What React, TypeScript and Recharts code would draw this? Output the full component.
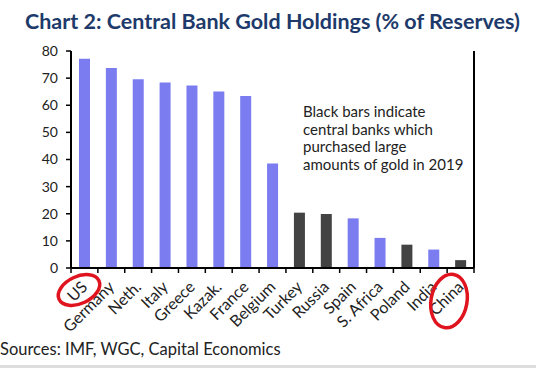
import React from "react";
import { BarChart, Bar, XAxis, YAxis, Cell } from "recharts";

const countries = ["US", "Germany", "Neth.", "Italy", "Greece", "Kazak.", "France", "Belgium", "Turkey", "Russia", "Spain", "S. Africa", "Poland", "India", "China"];
const goldShare = [77.1, 73.7, 69.6, 68.4, 67.3, 65.1, 63.4, 38.5, 20.4, 19.9, 18.3, 11.1, 8.6, 6.8, 2.9];
const largeBuyer = [false, false, false, false, false, false, false, false, true, true, false, false, true, false, true];
const yTicks = [0, 10, 20, 30, 40, 50, 60, 70, 80];
const noteLines = ["Black bars indicate", "central banks which", "purchased large", "amounts of gold in 2019"];

const data = countries.map((c, i) => ({ country: c, value: goldShare[i], black: largeBuyer[i] }));

const W = 536;
const H = 368;
const LEFT_W = 71;
const RIGHT_W = 62;
const TOP = 51;
const BOTTOM = 100;
const PLOT_W = W - LEFT_W - RIGHT_W;
const FONT = "Lato, 'Open Sans', sans-serif";
const BLUE = "#7b7cf0";
const DARK = "#434343";

const XTick = (props: any) => {
  const { x, y, payload, index } = props;
  const bw = PLOT_W / countries.length;
  return (
    <g>
      {index === 0 && <line x1={x - bw / 2} x2={x - bw / 2} y1={y} y2={y + 5} stroke="#000" strokeWidth={1.5} />}
      <line x1={x + bw / 2} x2={x + bw / 2} y1={y} y2={y + 5} stroke="#000" strokeWidth={1.5} />
      <text
        transform={`translate(${x + 4},${y + 20}) rotate(-45)`}
        textAnchor="end"
        fontSize={16}
        fill="#222"
        fontFamily={FONT}
      >
        {payload.value}
      </text>
    </g>
  );
};

export default function App() {
  return (
    <div style={{ position: "absolute", left: 0, top: 0, width: W, height: H, background: "#fff", fontFamily: FONT }}>
      <div
        style={{
          position: "absolute",
          left: 25,
          top: 8,
          fontSize: 21.5,
          fontWeight: 700,
          color: "#1d3a6b",
          whiteSpace: "nowrap",
        }}
      >
        Chart 2: Central Bank Gold Holdings (% of Reserves)
      </div>
      <div style={{ position: "absolute", left: 0, top: 0 }}>
        <BarChart width={W} height={H} data={data} margin={{ top: TOP, right: 0, bottom: BOTTOM - 70, left: 0 }} barCategoryGap="10%">
          <XAxis
            dataKey="country"
            interval={0}
            height={70}
            tickLine={false}
            tickSize={0}
            tickMargin={0}
            axisLine={{ stroke: "#000", strokeWidth: 2 }}
            tick={<XTick />}
          />
          <YAxis
            yAxisId="left"
            orientation="left"
            width={LEFT_W}
            domain={[0, 80]}
            ticks={yTicks}
            interval={0}
            axisLine={{ stroke: "#000", strokeWidth: 2 }}
            tickLine={{ stroke: "#000", strokeWidth: 1.5 }}
            tickSize={5}
            tickMargin={8}
            tick={{ fill: "#222", fontSize: 14, fontFamily: FONT }}
          />
          <YAxis
            yAxisId="right"
            orientation="right"
            width={RIGHT_W}
            domain={[0, 80]}
            ticks={yTicks}
            interval={0}
            axisLine={{ stroke: "#000", strokeWidth: 2 }}
            tickLine={{ stroke: "#000", strokeWidth: 1.5 }}
            tickSize={5}
            tickMargin={8}
            tick={{ fill: "#222", fontSize: 14, fontFamily: FONT }}
          />
          <Bar dataKey="value" yAxisId="left" barSize={11} isAnimationActive={false}>
            {data.map((d, i) => (
              <Cell key={i} fill={d.black ? DARK : BLUE} />
            ))}
          </Bar>
        </BarChart>
      </div>
      <div style={{ position: "absolute", left: 303, top: 103, fontSize: 15, lineHeight: "17.5px", color: "#222" }}>
        {noteLines.map((l, i) => (
          <div key={i}>{l}</div>
        ))}
      </div>
      <svg width={W} height={H} style={{ position: "absolute", left: 0, top: 0, pointerEvents: "none" }}>
        <ellipse cx={79} cy={290} rx={22} ry={13.5} transform="rotate(-25 79 290)" fill="none" stroke="#e0141e" strokeWidth={3.5} />
        <ellipse cx={449} cy={301} rx={18} ry={27} transform="rotate(10 449 301)" fill="none" stroke="#e0141e" strokeWidth={3.5} />
      </svg>
      <div style={{ position: "absolute", left: 0, top: 339, fontSize: 16.5, color: "#222", whiteSpace: "nowrap" }}>
        Sources: IMF, WGC, Capital Economics
      </div>
      <div style={{ position: "absolute", left: 0, top: 365, width: W, height: 3, background: "#ddd" }} />
    </div>
  );
}
